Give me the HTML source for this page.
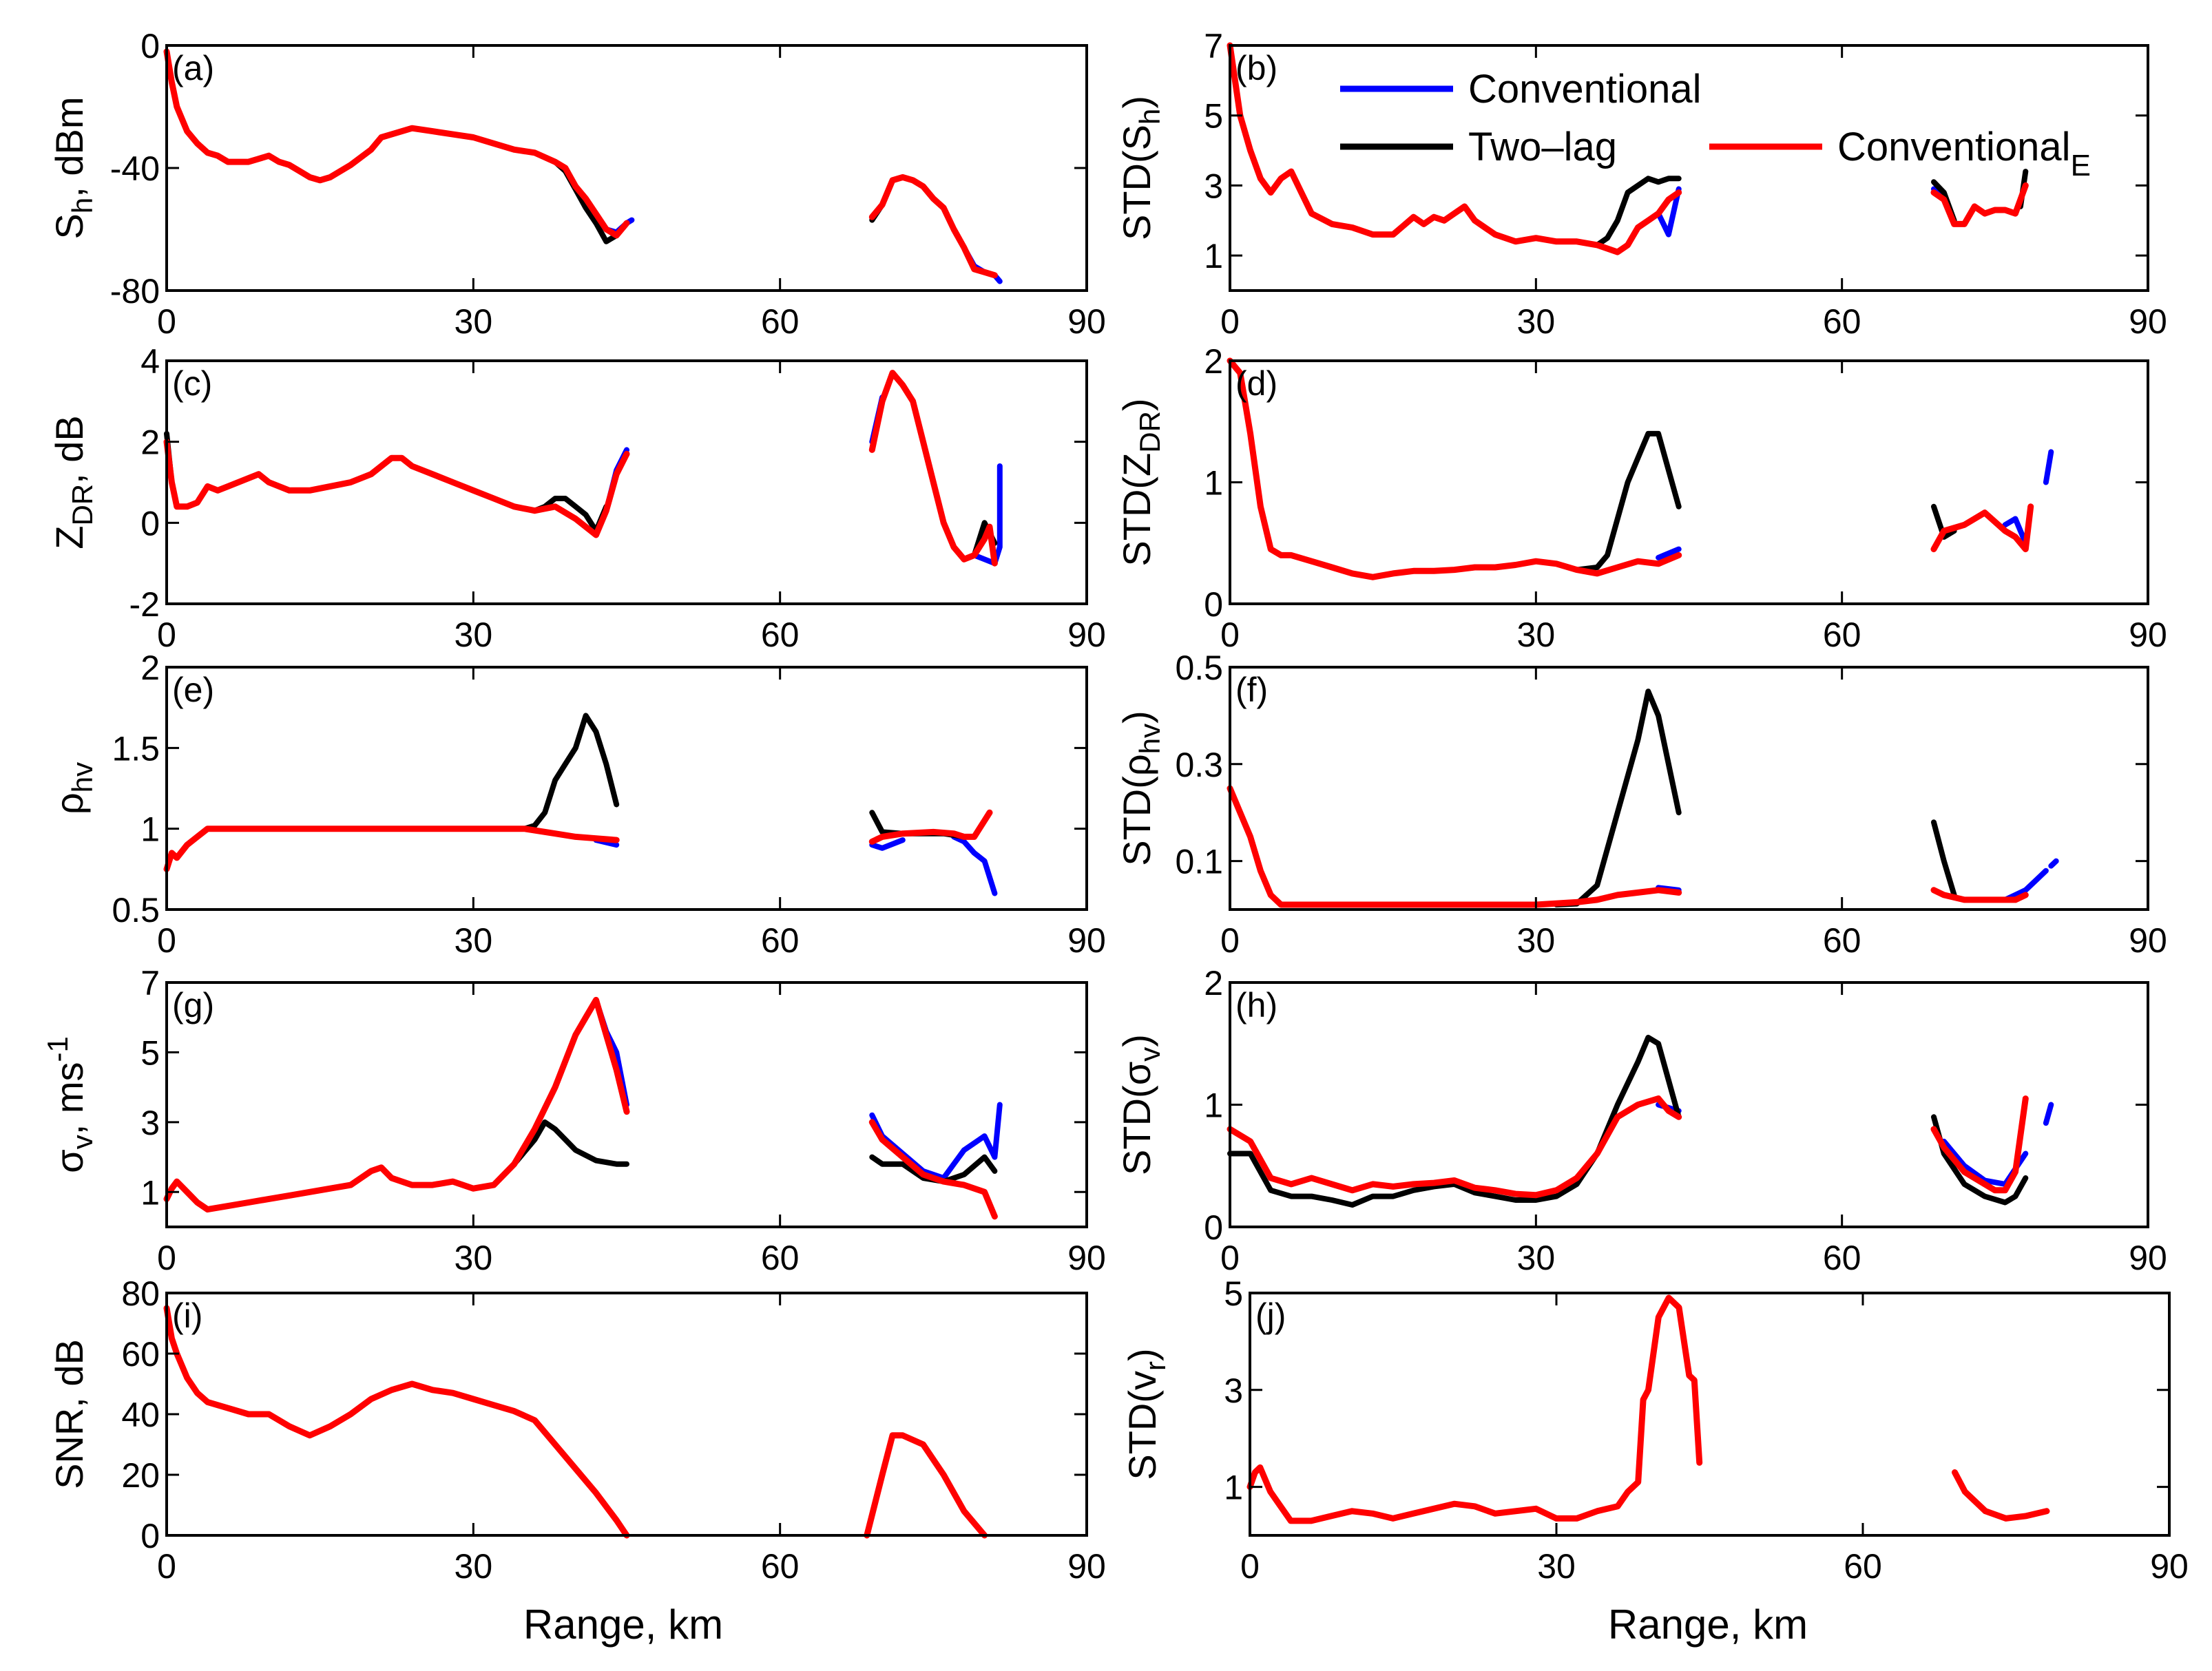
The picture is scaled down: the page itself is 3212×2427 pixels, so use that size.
<!DOCTYPE html>
<html><head><meta charset="utf-8"><style>
html,body{margin:0;padding:0;background:#fff;}
svg{display:block;}
text{font-family:"Liberation Sans",sans-serif;fill:#000;}
.tk{font-size:50px;}
.yl{font-size:56px;}
</style></head><body>
<svg id="fig" width="3212" height="2427" viewBox="0 0 3212 2427" xmlns="http://www.w3.org/2000/svg"></svg>
<script>
const xTicks = [0, 30, 60, 90];
// series as [range_km, value] pairs; null = gap
const redA = [[0,-2],[0.5,-12],[1,-20],[2,-28],[3,-32],[4,-35],[5,-36],[6,-38],[8,-38],[9,-37],[10,-36],[11,-38],[12,-39],[13,-41],[14,-43],[15,-44],[16,-43],[18,-39],[20,-34],[21,-30],[22,-29],[24,-27],[26,-28],[28,-29],[30,-30],[32,-32],[34,-34],[36,-35],[38,-38],[39,-40],[40,-46],[41,-50],[42,-55],[43,-60],[44,-62],[45,-58],null,[69,-56],[70,-52],[71,-44],[72,-43],[73,-44],[74,-46],[75,-50],[76,-53],[77,-60],[78,-66],[79,-73],[80,-74],[81,-75]];
const blackA = [[36,-35],[38,-38],[39,-41],[40,-47],[41,-53],[42,-58],[43,-64],[44,-62],[45,-58],null,[69,-57],[70,-52],[71,-44],[72,-43]];
const blueA = [[43,-60],[44,-61],[45,-58],[45.5,-57],null,[76,-53],[77,-60],[78,-66],[79,-72],[80,-74],[81,-75],[81.5,-77]];
const redB = [[0,7],[0.5,6],[1,5],[2,4],[3,3.2],[4,2.8],[5,3.2],[6,3.4],[7,2.8],[8,2.2],[10,1.9],[12,1.8],[14,1.6],[16,1.6],[18,2.1],[19,1.9],[20,2.1],[21,2.0],[22,2.2],[23,2.4],[24,2.0],[25,1.8],[26,1.6],[28,1.4],[30,1.5],[32,1.4],[34,1.4],[36,1.3],[37,1.2],[38,1.1],[39,1.3],[40,1.8],[41,2.0],[42,2.2],[43,2.6],[44,2.8],null,[69,2.8],[70,2.6],[71,1.9],[72,1.9],[73,2.4],[74,2.2],[75,2.3],[76,2.3],[77,2.2],[78,3.0]];
const blackB = [[34,1.4],[36,1.3],[37,1.5],[38,2.0],[39,2.8],[40,3.0],[41,3.2],[42,3.1],[43,3.2],[44,3.2],null,[69,3.1],[70,2.8],[71,2.0],null,[77.5,2.4],[78,3.4]];
const blueB = [[40,1.8],[41,2.0],[42,2.2],[43,1.6],[44,2.9],null,[69,2.9],[70,2.6]];
const redC = [[0,2.0],[0.5,1.0],[1,0.4],[2,0.4],[3,0.5],[4,0.9],[5,0.8],[6,0.9],[8,1.1],[9,1.2],[10,1.0],[12,0.8],[14,0.8],[16,0.9],[18,1.0],[20,1.2],[22,1.6],[23,1.6],[24,1.4],[26,1.2],[28,1.0],[30,0.8],[32,0.6],[34,0.4],[36,0.3],[38,0.4],[40,0.1],[42,-0.3],[43,0.3],[44,1.2],[45,1.7],null,[69,1.8],[70,3.0],[71,3.7],[72,3.4],[73,3.0],[74,2.0],[75,1.0],[76,0],[77,-0.6],[78,-0.9],[79,-0.8],[80,-0.4],[80.5,-0.1],[81,-1.0]];
const blackC = [[0,2.2],[0.5,1.0],null,[34,0.4],[36,0.3],[37,0.4],[38,0.6],[39,0.6],[40,0.4],[41,0.2],[42,-0.2],[43,0.4],null,[78,-0.9],[79,-0.8],[80,0.0],[81,-0.5]];
const blueC = [[43,0.3],[44,1.3],[45,1.8],null,[69,2.0],[70,3.1],null,[79,-0.8],[80,-0.9],[81,-1.0],[81.5,-0.6],[81.5,1.4]];
const redD = [[0,2.0],[1,1.9],[2,1.4],[3,0.8],[4,0.45],[5,0.4],[6,0.4],[8,0.35],[10,0.3],[12,0.25],[14,0.22],[16,0.25],[18,0.27],[20,0.27],[22,0.28],[24,0.3],[26,0.3],[28,0.32],[30,0.35],[32,0.33],[34,0.28],[36,0.25],[38,0.3],[40,0.35],[42,0.33],[44,0.4],null,[69,0.45],[70,0.6],[72,0.65],[74,0.75],[76,0.6],[77,0.55],[78,0.45],[78.5,0.8]];
const blackD = [[34,0.28],[36,0.3],[37,0.4],[38,0.7],[39,1.0],[40,1.2],[41,1.4],[42,1.4],[43,1.1],[44,0.8],null,[69,0.8],[70,0.55],[71,0.6]];
const blueD = [[42,0.38],[44,0.45],null,[76,0.65],[77,0.7],[78,0.5],null,[80,1.0],[80.5,1.25]];
const redE = [[0,0.75],[0.5,0.85],[1,0.82],[2,0.9],[3,0.95],[4,1.0],[10,1.0],[20,1.0],[30,1.0],[35,1.0],[38,0.97],[40,0.95],[42,0.94],[44,0.93],null,[69,0.92],[70,0.95],[72,0.97],[75,0.98],[77,0.97],[78,0.95],[79,0.95],[80,1.05],[80.5,1.1]];
const blackE = [[35,1.0],[36,1.02],[37,1.1],[38,1.3],[39,1.4],[40,1.5],[41,1.7],[42,1.6],[43,1.4],[44,1.15],null,[69,1.1],[70,0.98],[72,0.97],[76,0.97],[78,0.95]];
const blueE = [[42,0.93],[44,0.9],null,[69,0.9],[70,0.88],[72,0.93],null,[77,0.95],[78,0.92],[79,0.85],[80,0.8],[81,0.6]];
const redF = [[0,0.25],[1,0.2],[2,0.15],[3,0.08],[4,0.03],[5,0.01],[10,0.01],[30,0.01],[34,0.015],[36,0.02],[38,0.03],[40,0.035],[42,0.04],[44,0.035],null,[69,0.04],[70,0.03],[72,0.02],[75,0.02],[77,0.02],[78,0.03]];
const blackF = [[32,0.01],[34,0.012],[36,0.05],[38,0.2],[40,0.35],[41,0.45],[42,0.4],[43,0.3],[44,0.2],null,[69,0.18],[70,0.1],[71,0.03]];
const blueF = [[42,0.045],[44,0.04],null,[76,0.02],[78,0.04],[79,0.06],[80,0.08],null,[80.5,0.09],[81,0.1]];
const redG = [[0,0.8],[0.5,1.1],[1,1.3],[2,1.0],[3,0.7],[4,0.5],[6,0.6],[8,0.7],[10,0.8],[12,0.9],[14,1.0],[16,1.1],[18,1.2],[20,1.6],[21,1.7],[22,1.4],[24,1.2],[26,1.2],[28,1.3],[30,1.1],[32,1.2],[34,1.8],[36,2.8],[38,4.0],[40,5.5],[41,6.0],[42,6.5],[43,5.5],[44,4.5],[45,3.3],null,[69,3.0],[70,2.5],[72,2.0],[74,1.5],[76,1.3],[78,1.2],[80,1.0],[81,0.3]];
const blackG = [[34,1.8],[36,2.5],[37,3.0],[38,2.8],[40,2.2],[42,1.9],[44,1.8],[45,1.8],null,[69,2.0],[70,1.8],[72,1.8],[74,1.4],[76,1.3],[78,1.5],[80,2.0],[81,1.6]];
const blueG = [[42,6.5],[43,5.6],[44,5.0],[45,3.5],null,[69,3.2],[70,2.6],[72,2.1],[74,1.6],[76,1.4],[77,1.8],[78,2.2],[80,2.6],[81,2.0],[81.5,3.5]];
const redH = [[0,0.8],[2,0.7],[4,0.4],[6,0.35],[8,0.4],[10,0.35],[12,0.3],[14,0.35],[16,0.33],[18,0.35],[20,0.36],[22,0.38],[24,0.32],[26,0.3],[28,0.27],[30,0.26],[32,0.3],[34,0.4],[36,0.6],[38,0.9],[40,1.0],[42,1.05],[43,0.95],[44,0.9],null,[69,0.8],[70,0.65],[72,0.45],[74,0.35],[75,0.3],[76,0.3],[77,0.45],[78,1.05]];
const blackH = [[0,0.6],[2,0.6],[4,0.3],[6,0.25],[8,0.25],[10,0.22],[12,0.18],[14,0.25],[16,0.25],[18,0.3],[20,0.33],[22,0.35],[24,0.28],[26,0.25],[28,0.22],[30,0.22],[32,0.25],[34,0.35],[36,0.6],[38,1.0],[40,1.35],[41,1.55],[42,1.5],[43,1.2],[44,0.9],null,[69,0.9],[70,0.6],[72,0.35],[74,0.25],[76,0.2],[77,0.25],[78,0.4]];
const blueH = [[42,1.0],[44,0.95],null,[70,0.7],[72,0.5],[74,0.38],[76,0.35],[78,0.6],null,[80,0.85],[80.5,1.0]];
const redI = [[0,75],[0.5,65],[1,60],[2,52],[3,47],[4,44],[6,42],[8,40],[10,40],[12,36],[14,33],[16,36],[18,40],[20,45],[22,48],[24,50],[26,48],[28,47],[30,45],[32,43],[34,41],[36,38],[38,30],[40,22],[42,14],[44,5],[45,0],null,[68.5,0],[70,20],[71,33],[72,33],[74,30],[76,20],[78,8],[80,0]];
const redJ = [[0,1.0],[0.5,1.3],[1,1.4],[2,0.9],[3,0.6],[4,0.3],[6,0.3],[8,0.4],[10,0.5],[12,0.45],[14,0.35],[16,0.45],[18,0.55],[20,0.65],[22,0.6],[24,0.45],[26,0.5],[28,0.55],[30,0.35],[32,0.35],[34,0.5],[36,0.6],[37,0.9],[38,1.1],[38.5,2.8],[39,3.0],[40,4.5],[41,4.9],[42,4.7],[43,3.3],[43.5,3.2],[44,1.5],null,[69,1.3],[70,0.9],[72,0.5],[74,0.35],[76,0.4],[78,0.5]];

const NS='http://www.w3.org/2000/svg';
const svg=document.getElementById('fig');
function mk(tag,attrs,parent){const e=document.createElementNS(NS,tag);for(const k in attrs)e.setAttribute(k,attrs[k]);(parent||svg).appendChild(e);return e;}

const panels=[
 {id:'a',x0:242,x1:1578,y0:66,y1:422,ymin:-80,ymax:0,yt:[-80,-40,0],ytl:['-80','-40','0'],lab:['S','h',', dBm'],ser:[blueA,blackA,redA],lx:100},
 {id:'b',x0:1786,x1:3119,y0:66,y1:422,ymin:0,ymax:7,yt:[1,3,5,7],ytl:['1','3','5','7'],lab:['STD(S','h',')'],ser:[blueB,blackB,redB],lx:1650},
 {id:'c',x0:242,x1:1578,y0:524,y1:877,ymin:-2,ymax:4,yt:[-2,0,2,4],ytl:['-2','0','2','4'],lab:['Z','DR',', dB'],ser:[blueC,blackC,redC],lx:100},
 {id:'d',x0:1786,x1:3119,y0:524,y1:877,ymin:0,ymax:2,yt:[0,1,2],ytl:['0','1','2'],lab:['STD(Z','DR',')'],ser:[blueD,blackD,redD],lx:1650},
 {id:'e',x0:242,x1:1578,y0:969,y1:1321,ymin:0.5,ymax:2,yt:[0.5,1,1.5,2],ytl:['0.5','1','1.5','2'],lab:['ρ','hv',''],ser:[blueE,blackE,redE],lx:100},
 {id:'f',x0:1786,x1:3119,y0:969,y1:1321,ymin:0,ymax:0.5,yt:[0.1,0.3,0.5],ytl:['0.1','0.3','0.5'],lab:['STD(ρ','hv',')'],ser:[blueF,blackF,redF],lx:1650},
 {id:'g',x0:242,x1:1578,y0:1427,y1:1782,ymin:0,ymax:7,yt:[1,3,5,7],ytl:['1','3','5','7'],lab:['σ','v',', ms','-1'],ser:[blueG,blackG,redG],lx:100},
 {id:'h',x0:1786,x1:3119,y0:1427,y1:1782,ymin:0,ymax:2,yt:[0,1,2],ytl:['0','1','2'],lab:['STD(σ','v',')'],ser:[blueH,blackH,redH],lx:1650},
 {id:'i',x0:242,x1:1578,y0:1878,y1:2230,ymin:0,ymax:80,yt:[0,20,40,60,80],ytl:['0','20','40','60','80'],lab:['SNR, dB','',''],ser:[null,null,redI],lx:100},
 {id:'j',x0:1815,x1:3150,y0:1878,y1:2230,ymin:0,ymax:5,yt:[1,3,5],ytl:['1','3','5'],lab:['STD(v','r',')'],ser:[null,null,redJ],lx:1658},
];
const colors=['#0000ff','#000000','#ff0000'];
const names=['conventional','two-lag','conventional-e'];

panels.forEach(p=>{
  const g=mk('g',{});
  
  
  const sx=v=>p.x0+(v-0)/(90-0)*(p.x1-p.x0);
  const sy=v=>p.y1-(v-p.ymin)/(p.ymax-p.ymin)*(p.y1-p.y0);
  // series
  p.ser.forEach((s,si)=>{
    if(!s)return;
    let d='',pen=false;
    s.forEach(pt=>{ if(pt===null){pen=false;return;} d+=(pen?'L':'M')+sx(pt[0]).toFixed(1)+' '+sy(pt[1]).toFixed(1); pen=true; });
    const path=mk('path',{d:d,fill:'none',stroke:colors[si],'stroke-width':si===2?9:8,'stroke-linejoin':'round','stroke-linecap':'round'},g);
    
    
  });
  // frame
  const fr=mk('rect',{x:p.x0,y:p.y0,width:p.x1-p.x0,height:p.y1-p.y0,fill:'none',stroke:'#000','stroke-width':4},g);
  
  
  // x ticks
  xTicks.forEach(t=>{
    const x=sx(t);
    mk('line',{x1:x,y1:p.y1,x2:x,y2:p.y1-18,stroke:'#000','stroke-width':3},g);
    mk('line',{x1:x,y1:p.y0,x2:x,y2:p.y0+18,stroke:'#000','stroke-width':3},g);
    const tx=mk('text',{x:x,y:p.y1+62,'text-anchor':'middle',class:'tk'},g);
    tx.textContent=t;
    
    
  });
  p.yt.forEach((t,i)=>{
    const y=sy(t);
    mk('line',{x1:p.x0,y1:y,x2:p.x0+18,y2:y,stroke:'#000','stroke-width':3},g);
    mk('line',{x1:p.x1,y1:y,x2:p.x1-18,y2:y,stroke:'#000','stroke-width':3},g);
    const tx=mk('text',{x:p.x0-10,y:y+18,'text-anchor':'end',class:'tk'},g);
    tx.textContent=p.ytl[i];
    
    
  });
  const pl=mk('text',{x:p.x0+8,y:p.y0+50,class:'tk','font-size':'46'},g);
  pl.textContent='('+p.id+')';
  
  
  // y label
  const cy=(p.y0+p.y1)/2;
  const yl=mk('text',{x:0,y:0,class:'yl','text-anchor':'middle',transform:`translate(${p.lx+20},${cy}) rotate(-90)`},g);
  
  
  const t1=mk('tspan',{},yl); t1.textContent=p.lab[0];
  if(p.lab[1]){const t2=mk('tspan',{dy:'14','font-size':'42'},yl); t2.textContent=p.lab[1];}
  const t3=mk('tspan',{dy:p.lab[1]?'-14':'0'},yl); t3.textContent=p.lab[2];
  if(p.lab[3]){const t4=mk('tspan',{dy:'-22','font-size':'42'},yl); t4.textContent=p.lab[3];}
});

// x axis titles
[[905,'x-axis-title-left'],[2480,'x-axis-title-right']].forEach(a=>{
  const t=mk('text',{x:a[0],y:2380,'text-anchor':'middle','font-size':'60'});
  t.textContent='Range, km';
  
  
});

// legend
const leg=mk('g',{});


const legItems=[[1946,2110,129,'#0000ff','Conventional',''],[1946,2110,213,'#000000','Two–lag',''],[2482,2646,213,'#ff0000','Conventional','E']];
legItems.forEach(it=>{
  const e=mk('g',{},leg);
  
  
  mk('line',{x1:it[0],y1:it[2],x2:it[1],y2:it[2],stroke:it[3],'stroke-width':9},e);
  const t=mk('text',{x:it[1]+22,y:it[2]+20,'font-size':'58'},e);
  const a=mk('tspan',{},t); a.textContent=it[4];
  if(it[5]){const b=mk('tspan',{dy:'22','font-size':'44'},t); b.textContent=it[5];}
});
</script>
</body></html>
